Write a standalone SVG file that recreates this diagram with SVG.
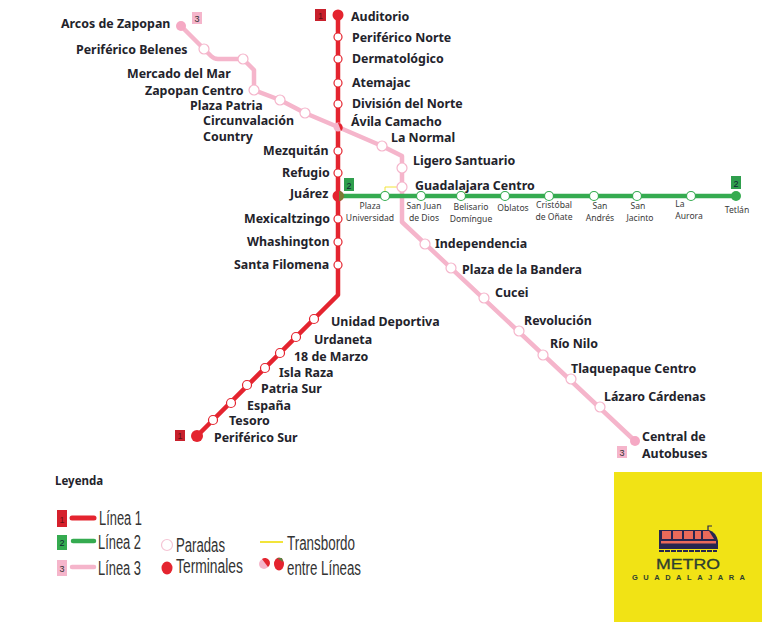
<svg xmlns="http://www.w3.org/2000/svg" width="768" height="627" viewBox="0 0 768 627">
<style>
text{font-family:"Noto Sans","Open Sans","DejaVu Sans",sans-serif;fill:#23232b}
.n{font-size:12.4px;font-weight:700}
.g{font-size:8.6px;fill:#3a3a3a;text-anchor:middle}
.leg{font-family:"Liberation Sans",sans-serif;font-size:19.5px;fill:#333}
.l{fill:none;stroke-linejoin:round;stroke-linecap:round}
.s{fill:#fff;stroke-width:1.2}
.s1{stroke:#e4242f}.s2{stroke:#35ab50}.s3{stroke:#f5b5cb}
.b{font-size:9px;text-anchor:middle;fill:#333;font-family:"Liberation Sans",sans-serif}
</style>
<rect width="768" height="627" fill="#fff"/>
<g id="connectors">
<path class="l" d="M338 15V295L197 436" stroke="#e4242f" stroke-width="4.5"/>
<path class="l" d="M181 26L211 56Q214 59 218 59H243L254 70V90L280 100L305 113L338 127L382 146L402 156V222L635 441" stroke="#f5b5cb" stroke-width="4.5"/>
<path class="l" d="M338 196H736" stroke="#35ab50" stroke-width="4.5"/>
<path d="M385 191V187H399" fill="none" stroke="#f2e43a" stroke-width="1"/>
</g>
<g id="line1-stops">
<circle cx="338" cy="15" r="5.5" fill="#e4242f"/>
<circle class="s s1" cx="338" cy="37" r="4"/><circle class="s s1" cx="338" cy="59" r="4"/><circle class="s s1" cx="338" cy="83" r="4"/><circle class="s s1" cx="338" cy="104" r="4"/>
<circle class="s s1" cx="338" cy="151" r="4"/><circle class="s s1" cx="338" cy="173" r="4"/><circle class="s s1" cx="338" cy="219" r="4"/><circle class="s s1" cx="338" cy="242" r="4"/><circle class="s s1" cx="338" cy="265" r="4"/>
<circle class="s s1" cx="314" cy="319" r="4.5"/><circle class="s s1" cx="296" cy="337" r="4.5"/><circle class="s s1" cx="280" cy="353" r="4.5"/><circle class="s s1" cx="265" cy="368" r="4.5"/><circle class="s s1" cx="247" cy="385" r="4.5"/><circle class="s s1" cx="231" cy="403" r="4.5"/><circle class="s s1" cx="213" cy="420" r="4.5"/>
<circle cx="197" cy="436" r="6" fill="#e4242f"/>
</g>
<g id="line3-stops">
<circle cx="181" cy="26" r="5" fill="#f5a9c4"/>
<circle class="s s3" cx="204" cy="49" r="5"/><circle class="s s3" cx="243" cy="59" r="5"/><circle class="s s3" cx="254" cy="90" r="5"/><circle class="s s3" cx="280" cy="100" r="5"/><circle class="s s3" cx="305" cy="113" r="5"/>
<circle class="s s3" cx="382" cy="146" r="5"/><circle class="s s3" cx="402" cy="168" r="5"/><circle class="s s3" cx="402" cy="187" r="5"/>
<circle class="s s3" cx="425" cy="244" r="5"/><circle class="s s3" cx="451" cy="268" r="5"/><circle class="s s3" cx="484" cy="298" r="5"/><circle class="s s3" cx="519" cy="331" r="5"/><circle class="s s3" cx="543" cy="355" r="5"/><circle class="s s3" cx="571" cy="379" r="5"/><circle class="s s3" cx="600" cy="407" r="5"/>
<circle cx="635" cy="441" r="5" fill="#f5a9c4"/>
</g>
<g id="line2-stops">
<circle class="s s2" cx="385" cy="196" r="4.5"/><circle class="s s2" cx="421" cy="196" r="4.5"/><circle class="s s2" cx="461" cy="196" r="4.5"/><circle class="s s2" cx="505" cy="196" r="4.5"/><circle class="s s2" cx="549" cy="196" r="4.5"/><circle class="s s2" cx="594" cy="196" r="4.5"/><circle class="s s2" cx="637" cy="196" r="4.5"/><circle class="s s2" cx="691" cy="196" r="4.5"/>
<circle cx="736" cy="196" r="5" fill="#35ab50"/>
</g>
<g id="interchanges">
<circle cx="338" cy="127" r="4.5" fill="#f5b5cb"/><path d="M338 123a4.500 4.500 0 0 1 3 8z" fill="#e4242f"/>
<circle cx="338" cy="196" r="5.500" fill="#e4242f"/><path d="M339 191a5 5 0 0 1 0 10z" fill="#7d7a35"/>
</g>
<g id="badges">
<rect x="192" y="12" width="10" height="12" fill="#f5b5cb"/><text class="b" x="197" y="21.500">3</text>
<rect x="315" y="9" width="11" height="12" fill="#c8202c"/><text class="b" x="320.500" y="19" style="fill:#5b1015">1</text>
<rect x="344" y="178" width="10" height="13" fill="#2f9e4d"/><text class="b" x="349" y="188.500" style="fill:#123">2</text>
<rect x="731" y="176" width="10" height="13" fill="#2f9e4d"/><text class="b" x="736" y="186.500" style="fill:#123">2</text>
<rect x="175" y="430" width="10" height="11" fill="#c8202c"/><text class="b" x="180" y="439" style="fill:#5b1015">1</text>
<rect x="617" y="446" width="10" height="12" fill="#f5b5cb"/><text class="b" x="622" y="456">3</text>
</g>
<g id="labels">
<text class="n" x="61" y="28">Arcos de Zapopan</text>
<text class="n" x="76" y="54">Periférico Belenes</text>
<text class="n" x="127" y="78">Mercado del Mar</text>
<text class="n" x="145" y="95">Zapopan Centro</text>
<text class="n" x="190" y="110">Plaza Patria</text>
<text class="n" x="203" y="125">Circunvalación</text>
<text class="n" x="203" y="141">Country</text>
<text class="n" x="263" y="155">Mezquitán</text>
<text class="n" x="282" y="177">Refugio</text>
<text class="n" x="290" y="198">Juárez</text>
<text class="n" x="244" y="223">Mexicaltzingo</text>
<text class="n" x="247" y="246">Whashington</text>
<text class="n" x="234" y="269">Santa Filomena</text>
<text class="n" x="351" y="21">Auditorio</text>
<text class="n" x="352" y="42">Periférico Norte</text>
<text class="n" x="352" y="63">Dermatológico</text>
<text class="n" x="352" y="87">Atemajac</text>
<text class="n" x="352" y="108">División del Norte</text>
<text class="n" x="351" y="126">Ávila Camacho</text>
<text class="n" x="391" y="142">La Normal</text>
<text class="n" x="413" y="165">Ligero Santuario</text>
<text class="n" x="415" y="190">Guadalajara Centro</text>
<text class="n" x="435" y="248">Independencia</text>
<text class="n" x="462" y="274">Plaza de la Bandera</text>
<text class="n" x="495" y="297">Cucei</text>
<text class="n" x="524" y="325">Revolución</text>
<text class="n" x="550" y="348">Río Nilo</text>
<text class="n" x="571" y="373">Tlaquepaque Centro</text>
<text class="n" x="604" y="401">Lázaro Cárdenas</text>
<text class="n" x="642" y="441">Central de</text>
<text class="n" x="642" y="458">Autobuses</text>
<text class="n" x="331" y="326">Unidad Deportiva</text>
<text class="n" x="314" y="344">Urdaneta</text>
<text class="n" x="294" y="361">18 de Marzo</text>
<text class="n" x="279" y="377">Isla Raza</text>
<text class="n" x="261" y="393">Patria Sur</text>
<text class="n" x="247" y="410">España</text>
<text class="n" x="229" y="425">Tesoro</text>
<text class="n" x="214" y="442">Periférico Sur</text>
<text class="g" x="370" y="209">Plaza</text>
<text class="g" x="370" y="221">Universidad</text>
<text class="g" x="424" y="209">San Juan</text>
<text class="g" x="424" y="221">de Dios</text>
<text class="g" x="471" y="210">Belisario</text>
<text class="g" x="471" y="222">Domíngue</text>
<text class="g" x="513" y="211">Oblatos</text>
<text class="g" x="554" y="208">Cristóbal</text>
<text class="g" x="554" y="220">de Oñate</text>
<text class="g" x="600" y="209">San</text>
<text class="g" x="600" y="221">Andrés</text>
<text class="g" x="638" y="209">San</text>
<text class="g" x="640" y="221">Jacinto</text>
<text class="g" x="680" y="207">La</text>
<text class="g" x="689" y="219">Aurora</text>
<text class="g" x="737" y="213">Tetlán</text>
</g>
<g id="legend">
<text x="55" y="485" style="font-size:11.500px;font-weight:700">Leyenda</text>
<rect x="57" y="510" width="10" height="17" fill="#d5202c"/><text class="b" x="62" y="523" style="fill:#6b1015">1</text>
<path d="M72 518H94" stroke="#e4242f" stroke-width="5" stroke-linecap="round"/>
<text class="leg" x="99" y="525" textLength="43" lengthAdjust="spacingAndGlyphs">Línea 1</text>
<rect x="57" y="535" width="10" height="15" fill="#35ab50"/><text class="b" x="62" y="546" style="fill:#123">2</text>
<path d="M73 541H94" stroke="#35ab50" stroke-width="4.500" stroke-linecap="round"/>
<text class="leg" x="98" y="549" textLength="43" lengthAdjust="spacingAndGlyphs">Línea 2</text>
<rect x="57" y="560" width="10" height="16" fill="#f5b5cb"/><text class="b" x="62" y="572">3</text>
<path d="M72 567H94" stroke="#f5b5cb" stroke-width="4.500" stroke-linecap="round"/>
<text class="leg" x="98" y="575" textLength="43" lengthAdjust="spacingAndGlyphs">Línea 3</text>
<circle cx="167" cy="545" r="5.500" fill="#fff" stroke="#f5c4d4" stroke-width="1.200"/>
<text class="leg" x="176" y="552" textLength="49" lengthAdjust="spacingAndGlyphs">Paradas</text>
<ellipse cx="167" cy="568" rx="5.500" ry="6.500" fill="#e4242f"/>
<text class="leg" x="176" y="573" textLength="67" lengthAdjust="spacingAndGlyphs">Terminales</text>
<path d="M260 542H283" stroke="#f2e43a" stroke-width="2"/>
<text class="leg" x="287" y="550" textLength="68" lengthAdjust="spacingAndGlyphs">Transbordo</text>
<circle cx="264" cy="564" r="5" fill="#f5b5cb"/><path d="M262 559a5 5 0 0 1 6 8z" fill="#e4242f"/>
<ellipse cx="279" cy="564" rx="5" ry="6.500" fill="#e4242f"/><path d="M277 558h5l1 4z" fill="#5a8040"/>
<text class="leg" x="287" y="575" textLength="74" lengthAdjust="spacingAndGlyphs">entre Líneas</text>
</g>
<g id="logo">
<rect x="614" y="472" width="148" height="150" fill="#f1e315"/>
<path d="M659 530H709Q716 532 718 541V549H659Z" fill="#27264f"/>
<rect x="662" y="531" width="9" height="8" fill="#ea6a5a"/><rect x="673" y="531" width="9" height="8" fill="#ea6a5a"/><rect x="684" y="531" width="9" height="8" fill="#ea6a5a"/>
<path d="M703 531H709L714 539H703ZM695 531H701V539H695Z" fill="#ea6a5a"/>
<rect x="661" y="541" width="55" height="2.500" fill="#ea6a5a"/>
<path d="M659 551H717" stroke="#27264f" stroke-width="2" stroke-dasharray="5 1"/>
<path d="M708 530V526H712" stroke="#27264f" stroke-width="1.200" fill="none"/>
<text x="656" y="569" textLength="64" lengthAdjust="spacingAndGlyphs" style="font-family:'Liberation Sans',sans-serif;font-size:15px;fill:#2d4030;stroke:#2d4030;stroke-width:0.3">METRO</text>
<text x="632" y="580" textLength="113" style="font-family:'Liberation Sans',sans-serif;font-size:7.500px;font-weight:700;fill:#2d4030">GUADALAJARA</text>
</g>
</svg>
